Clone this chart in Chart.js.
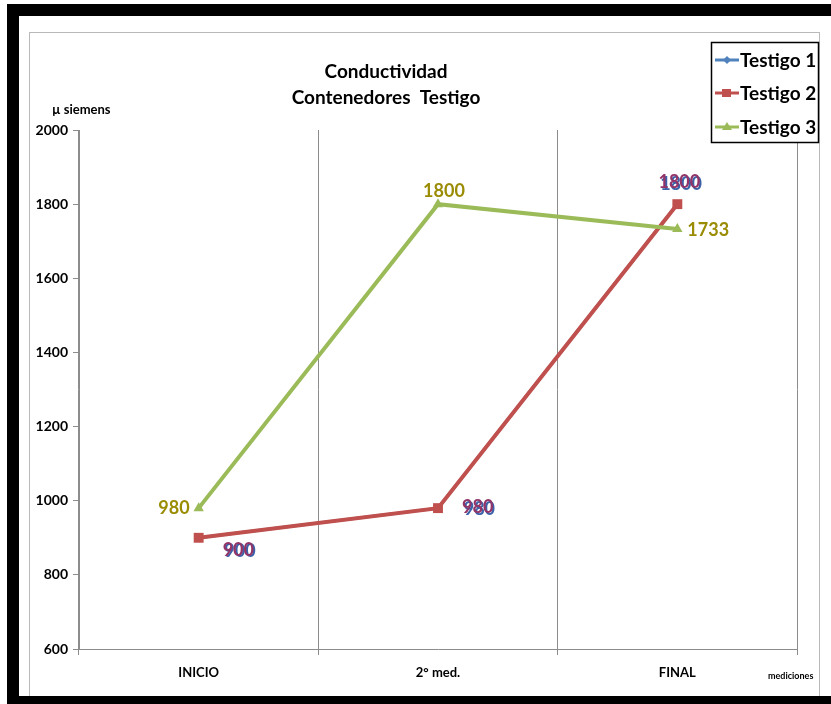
<!DOCTYPE html>
<html>
<head>
<meta charset="utf-8">
<script src="https://cdn.jsdelivr.net/npm/chart.js@4"></script>
<style>
    html, body { margin: 0; padding: 0; background: #ffffff; }
    #wrap { position: absolute; left: 0; top: 0; width: 831px; height: 704px; }
</style>
</head>
<body>
<div id="wrap"><canvas id="chart" width="831" height="704"></canvas></div>
<script>
    const mediciones = ["INICIO", "2° med.", "FINAL"];
    const testigo1 = [900, 980, 1800];
    const testigo2 = [900, 980, 1800];
    const testigo3 = [980, 1800, 1733];
    const yTicks = [600, 800, 1000, 1200, 1400, 1600, 1800, 2000];

    const FONT = "Lato, 'Open Sans', sans-serif";

    // where each value label sits relative to its point (dx, dy, align)
    const labelPlace = {
        0: [[25, 13, "left"], [25, 0, "left"], [3, -21, "center"]],
        1: [[24, 12, "left"], [24, -1, "left"], [2, -22, "center"]],
        2: [[-9, 0, "right"], [6, -13, "center"], [10, 1, "left"]],
    };
    const labelColor = { 0: "#3b62a8", 1: "#923468", 2: "#9a8c05" };

    const framePlugin = {
        id: "frame",
        beforeDraw(chart) {
            const ctx = chart.ctx;
            ctx.save();
            ctx.fillStyle = "#ffffff";
            ctx.fillRect(0, 0, chart.width, chart.height);
            ctx.strokeStyle = "#b9b9b9";
            ctx.lineWidth = 1;
            ctx.strokeRect(29.5, 32.5, 790, 700);
            ctx.fillStyle = "#000000";
            ctx.fillRect(7, 4, 824, 12);
            ctx.fillRect(7, 4, 12, 700);
            ctx.fillRect(7, 696, 824, 8);

            ctx.fillStyle = "#000000";
            ctx.textAlign = "center";
            ctx.textBaseline = "middle";
            ctx.font = "bold 19px " + FONT;
            ctx.fillText("Conductividad", 386, 72);
            ctx.fillText("Contenedores  Testigo", 386, 98);

            ctx.font = "bold 13px " + FONT;
            ctx.textAlign = "left";
            ctx.fillText("µ siemens", 52, 110);
            ctx.font = "bold 9px " + FONT;
            ctx.fillText("mediciones", 768, 676);
            ctx.restore();
        },
        afterDatasetsDraw(chart) {
            const ctx = chart.ctx;
            ctx.save();
            ctx.font = "bold 18px " + FONT;
            ctx.textBaseline = "middle";
            chart.data.datasets.forEach((ds, di) => {
                const meta = chart.getDatasetMeta(di);
                meta.data.forEach((pt, i) => {
                    const [dx, dy, align] = labelPlace[di][i];
                    ctx.textAlign = align;
                    ctx.fillStyle = labelColor[di];
                    const shift = di === 0 ? 0.7 : 0;
                    ctx.fillText(String(ds.data[i]), pt.x + dx + shift, pt.y + dy + shift);
                });
            });

            // legend box
            ctx.fillStyle = "#ffffff";
            ctx.fillRect(711, 42, 108, 101);
            ctx.strokeStyle = "#000000";
            ctx.lineWidth = 1.5;
            ctx.strokeRect(711.5, 42.5, 107, 100);
            const rows = [60, 93, 127];
            chart.data.datasets.forEach((ds, di) => {
                const y = rows[di];
                ctx.strokeStyle = ds.borderColor;
                ctx.lineWidth = 3;
                ctx.beginPath();
                ctx.moveTo(715, y);
                ctx.lineTo(739, y);
                ctx.stroke();
                ctx.fillStyle = ds.borderColor;
                ctx.beginPath();
                if (di === 0) {
                    ctx.moveTo(727, y - 4); ctx.lineTo(731, y); ctx.lineTo(727, y + 4); ctx.lineTo(723, y);
                } else if (di === 1) {
                    ctx.rect(722, y - 4, 9, 8);
                } else {
                    ctx.moveTo(727, y - 5); ctx.lineTo(732, y + 3); ctx.lineTo(722, y + 3);
                }
                ctx.closePath();
                ctx.fill();
                ctx.fillStyle = "#000000";
                ctx.textAlign = "left";
                ctx.font = "bold 19px " + FONT;
                ctx.fillText(ds.label, 740, y + 1);
            });
            ctx.restore();
        },
    };

    new Chart(document.getElementById("chart"), {
        type: "line",
        data: {
            labels: mediciones,
            datasets: [
                {
                    label: "Testigo 1",
                    data: testigo1,
                    borderColor: "#4f81bd",
                    backgroundColor: "#4f81bd",
                    borderWidth: 3,
                    pointStyle: "rectRot",
                    pointRadius: 3,
                    pointBorderWidth: 0,
                    order: 3,
                },
                {
                    label: "Testigo 2",
                    data: testigo2,
                    borderColor: "#c0504d",
                    backgroundColor: "#c0504d",
                    borderWidth: 4,
                    pointStyle: "rect",
                    pointRadius: 7,
                    pointBorderWidth: 0,
                    order: 2,
                },
                {
                    label: "Testigo 3",
                    data: testigo3,
                    borderColor: "#9bbb59",
                    backgroundColor: "#9bbb59",
                    borderWidth: 4,
                    pointStyle: "triangle",
                    pointRadius: 6,
                    pointBorderWidth: 0,
                    order: 1,
                },
            ],
        },
        options: {
            responsive: false,
            animation: false,
            layout: { padding: { left: 30, right: 34, top: 130, bottom: 15 } },
            plugins: {
                legend: { display: false },
                title: { display: false },
                tooltip: { enabled: false },
            },
            scales: {
                x: {
                    offset: true,
                    afterFit: (s) => { s.height = 40; },
                    grid: { offset: true, color: "#8c8c8c", drawOnChartArea: true, tickLength: 6 },
                    border: { color: "#8c8c8c" },
                    ticks: { color: "#000000", font: { family: FONT, size: 13, weight: "bold" }, padding: 10 },
                },
                y: {
                    min: 600,
                    max: 2000,
                    afterFit: (s) => { s.width = 49; },
                    afterBuildTicks: (s) => { s.ticks = yTicks.map((v) => ({ value: v })); },
                    grid: { drawOnChartArea: false, color: "#8c8c8c", tickLength: 6 },
                    border: { color: "#8c8c8c" },
                    ticks: {
                        color: "#000000",
                        font: { family: FONT, size: 14, weight: "bold" },
                        padding: 5,
                        callback: (v) => String(v),
                    },
                },
            },
        },
        plugins: [framePlugin],
    });
</script>
</body>
</html>
